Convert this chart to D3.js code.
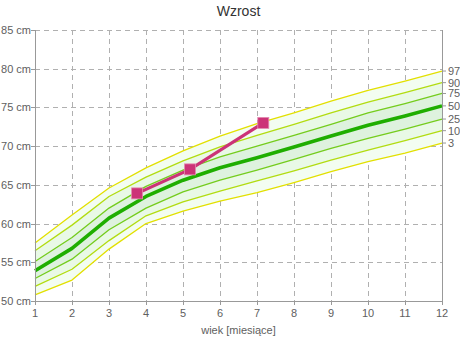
<!DOCTYPE html>
<html>
<head>
<meta charset="utf-8">
<script src="https://cdn.jsdelivr.net/npm/d3@7"></script>
<style>
  body { margin: 0; background: #fff; }
  svg { display: block; }
  text { font-family: "Liberation Sans", Arial, sans-serif; }
</style>
</head>
<body>
<svg id="chart" width="460" height="340"></svg>
<script>
// Age in months along the x axis
const months = [1, 2, 3, 4, 5, 6, 7, 8, 9, 10, 11, 12];

// Percentile curves of length (cm) for each month
const p97 = [57.5, 61.1, 64.6, 67.2, 69.4, 71.3, 72.9, 74.3, 75.8, 77.2, 78.4, 79.7];
const p90 = [56.5, 59.8, 63.5, 66.0, 68.1, 69.9, 71.4, 72.8, 74.3, 75.7, 76.9, 78.2];
const p75 = [55.1, 58.2, 62.0, 64.8, 66.9, 68.6, 70.0, 71.4, 72.8, 74.3, 75.5, 76.8];
const p50 = [53.9, 56.8, 60.7, 63.5, 65.6, 67.2, 68.5, 69.9, 71.3, 72.7, 73.9, 75.2];
const p25 = [52.9, 55.4, 59.2, 62.0, 64.1, 65.6, 66.9, 68.3, 69.7, 71.0, 72.2, 73.5];
const p10 = [51.9, 54.1, 57.8, 61.0, 62.8, 64.2, 65.5, 66.8, 68.2, 69.5, 70.7, 72.0];
const p3  = [50.8, 52.7, 56.7, 60.0, 61.6, 62.9, 64.0, 65.3, 66.7, 68.0, 69.1, 70.4];

const percentileNames = ["97", "90", "75", "50", "25", "10", "3"];

// Child's own measurements
const measuredAge = [3.76, 5.19, 7.17];
const measuredHeight = [63.9, 67.0, 73.0];

// Axis ticks
const yTicks = [50, 55, 60, 65, 70, 75, 80, 85];
const xTicks = months;

const svg = d3.select("#chart");
const margin = { top: 30, right: 18, bottom: 39, left: 35 };
const W = 460, H = 340;
const x = d3.scaleLinear().domain([1, 12]).range([margin.left, W - margin.right]);
const y = d3.scaleLinear().domain([50, 85]).range([H - margin.bottom, margin.top]);

const gridColor = "#b0b0b0";
const axisColor = "#999999";
const textColor = "#606060";

// Title
svg.append("text")
  .attr("x", (x(1) + x(12)) / 2).attr("y", 16)
  .attr("text-anchor", "middle")
  .attr("font-size", 14).attr("fill", "#333")
  .text("Wzrost");

// Dashed grid
const grid = svg.append("g").attr("shape-rendering", "crispEdges");
grid.selectAll("line.h").data(yTicks.filter(v => v > 50)).join("line")
  .attr("x1", x(1)).attr("x2", x(12))
  .attr("y1", d => Math.round(y(d)) + 0.5).attr("y2", d => Math.round(y(d)) + 0.5)
  .attr("stroke", gridColor).attr("stroke-dasharray", "5,4");
grid.selectAll("line.v").data(xTicks.filter(v => v > 1 && v < 12)).join("line")
  .attr("x1", d => Math.round(x(d)) + 0.5).attr("x2", d => Math.round(x(d)) + 0.5)
  .attr("y1", y(85)).attr("y2", y(50))
  .attr("stroke", gridColor).attr("stroke-dasharray", "5,4");

// Percentile bands
const series = [p97, p90, p75, p50, p25, p10, p3];
const band = (hi, lo) => d3.area()
  .x((d, i) => x(months[i]))
  .y0((d, i) => y(lo[i]))
  .y1((d, i) => y(hi[i]))(months);

const bands = [
  [p97, p90, "#f3fdf1"],
  [p90, p75, "#e9f9e6"],
  [p75, p25, "#def2de"],
  [p25, p10, "#e9f9e6"],
  [p10, p3,  "#f3fdf1"]
];
svg.append("g").selectAll("path").data(bands).join("path")
  .attr("d", d => band(d[0], d[1]))
  .attr("fill", d => d[2]);

// Percentile lines
const line = d3.line().x((d, i) => x(months[i])).y(d => y(d));
const lineStyles = [
  { c: "#e2e000", w: 1.3 },
  { c: "#b2dc10", w: 1.3 },
  { c: "#74cc1c", w: 1.3 },
  { c: "#1fae00", w: 3.6 },
  { c: "#74cc1c", w: 1.3 },
  { c: "#b2dc10", w: 1.3 },
  { c: "#e2e000", w: 1.3 }
];
svg.append("g").selectAll("path").data(series).join("path")
  .attr("d", d => line(d))
  .attr("fill", "none")
  .attr("stroke", (d, i) => lineStyles[i].c)
  .attr("stroke-width", (d, i) => lineStyles[i].w)
  .attr("stroke-linejoin", "round");

// Axes
const axes = svg.append("g").attr("shape-rendering", "crispEdges");
axes.append("line")
  .attr("x1", x(1) + 0.5).attr("x2", x(1) + 0.5)
  .attr("y1", y(85)).attr("y2", y(50) + 4)
  .attr("stroke", axisColor);
axes.append("line")
  .attr("x1", x(12) + 0.5).attr("x2", x(12) + 0.5)
  .attr("y1", y(85)).attr("y2", y(50) + 4)
  .attr("stroke", axisColor);
axes.append("line")
  .attr("x1", x(1) - 4).attr("x2", x(12) + 0.5)
  .attr("y1", Math.round(y(50)) + 0.5).attr("y2", Math.round(y(50)) + 0.5)
  .attr("stroke", axisColor);

// Left ticks and labels
const yt = svg.append("g");
yt.selectAll("line").data(yTicks).join("line")
  .attr("shape-rendering", "crispEdges")
  .attr("x1", x(1) - 4).attr("x2", x(1))
  .attr("y1", d => Math.round(y(d)) + 0.5).attr("y2", d => Math.round(y(d)) + 0.5)
  .attr("stroke", axisColor);
yt.selectAll("text").data(yTicks).join("text")
  .attr("x", x(1) - 4).attr("y", d => y(d) + 4)
  .attr("text-anchor", "end").attr("font-size", 11).attr("fill", textColor)
  .text(d => d + " cm");

// Bottom ticks and labels
const xt = svg.append("g");
xt.selectAll("line").data(xTicks).join("line")
  .attr("shape-rendering", "crispEdges")
  .attr("x1", d => Math.round(x(d)) + 0.5).attr("x2", d => Math.round(x(d)) + 0.5)
  .attr("y1", y(50)).attr("y2", y(50) + 4)
  .attr("stroke", axisColor);
xt.selectAll("text").data(xTicks).join("text")
  .attr("x", d => x(d)).attr("y", y(50) + 16)
  .attr("text-anchor", "middle").attr("font-size", 11).attr("fill", textColor)
  .text(d => d);

// Percentile labels on the right
const last = months.length - 1;
const rt = svg.append("g");
rt.selectAll("line").data(series).join("line")
  .attr("x1", x(12)).attr("x2", x(12) + 4)
  .attr("y1", d => y(d[last])).attr("y2", d => y(d[last]))
  .attr("stroke", axisColor);
rt.selectAll("text").data(series).join("text")
  .attr("x", x(12) + 6).attr("y", d => y(d[last]) + 4)
  .attr("font-size", 11).attr("fill", textColor)
  .text((d, i) => percentileNames[i]);

// Axis title
svg.append("text")
  .attr("x", (x(1) + x(12)) / 2).attr("y", 334)
  .attr("text-anchor", "middle").attr("font-size", 11).attr("fill", textColor)
  .text("wiek [miesiące]");

// Measurements
const measured = measuredAge.map((a, i) => [a, measuredHeight[i]]);
svg.append("path")
  .attr("d", d3.line().x(d => x(d[0])).y(d => y(d[1]))(measured))
  .attr("fill", "none").attr("stroke", "#cc3377").attr("stroke-width", 3.2);
svg.append("g").selectAll("rect").data(measured).join("rect")
  .attr("x", d => x(d[0]) - 5.5).attr("y", d => y(d[1]) - 5.5)
  .attr("width", 11).attr("height", 11)
  .attr("fill", "#cc3377").attr("stroke", "#e48ab0").attr("stroke-width", 0.8);
</script>
</body>
</html>
